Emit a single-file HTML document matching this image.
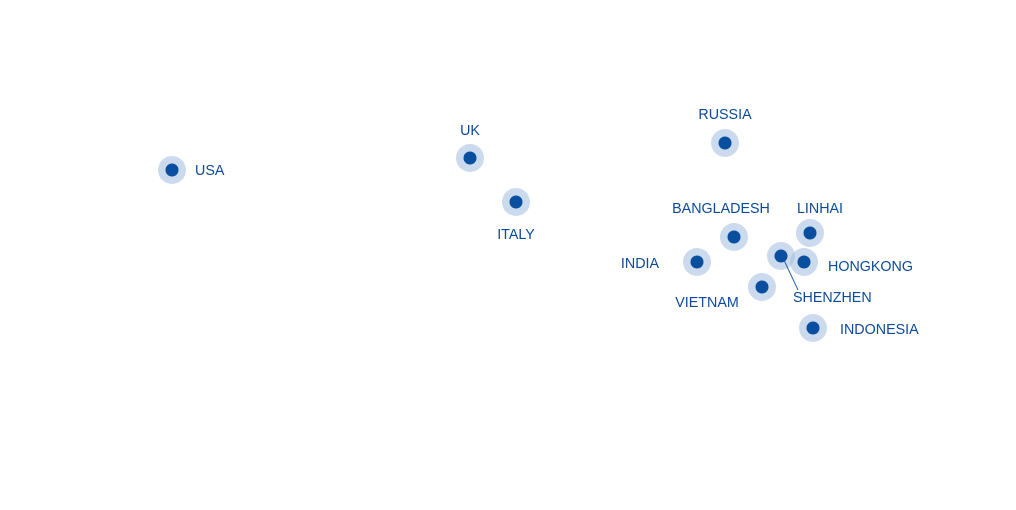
<!DOCTYPE html>
<html><head><meta charset="utf-8"><style>
html,body{margin:0;padding:0;background:#fff;}
svg{display:block}
text{font-family:"Liberation Sans",sans-serif;font-size:14.3px;fill:#0b4a9a;}
</style></head><body>
<svg width="1016" height="510" viewBox="0 0 1016 510">
<g fill="#a9c1df" fill-opacity="0.6">
<circle cx="172" cy="170" r="14"/>
<circle cx="470" cy="158" r="14"/>
<circle cx="516" cy="202" r="14"/>
<circle cx="725" cy="143" r="14"/>
<circle cx="734" cy="237" r="14"/>
<circle cx="810" cy="233" r="14"/>
<circle cx="697" cy="262" r="14"/>
<circle cx="781" cy="256" r="14"/>
<circle cx="804" cy="262" r="14"/>
<circle cx="762" cy="287" r="14"/>
<circle cx="813" cy="328" r="14"/>
</g>
<line x1="783" y1="258" x2="798" y2="290" stroke="#2a64b0" stroke-width="1"/>
<g fill="#0a4ea0">
<circle cx="172" cy="170" r="6.5"/>
<circle cx="470" cy="158" r="6.5"/>
<circle cx="516" cy="202" r="6.5"/>
<circle cx="725" cy="143" r="6.5"/>
<circle cx="734" cy="237" r="6.5"/>
<circle cx="810" cy="233" r="6.5"/>
<circle cx="697" cy="262" r="6.5"/>
<circle cx="781" cy="256" r="6.5"/>
<circle cx="804" cy="262" r="6.5"/>
<circle cx="762" cy="287" r="6.5"/>
<circle cx="813" cy="328" r="6.5"/>
</g>
<text x="195" y="175">USA</text>
<text x="470" y="135" text-anchor="middle">UK</text>
<text x="516" y="239" text-anchor="middle">ITALY</text>
<text x="725" y="119" text-anchor="middle">RUSSIA</text>
<text x="721" y="213" text-anchor="middle">BANGLADESH</text>
<text x="820" y="213" text-anchor="middle">LINHAI</text>
<text x="640" y="268" text-anchor="middle">INDIA</text>
<text x="828" y="271">HONGKONG</text>
<text x="707" y="307" text-anchor="middle">VIETNAM</text>
<text x="793" y="302">SHENZHEN</text>
<text x="840" y="334">INDONESIA</text>
</svg>
</body></html>
